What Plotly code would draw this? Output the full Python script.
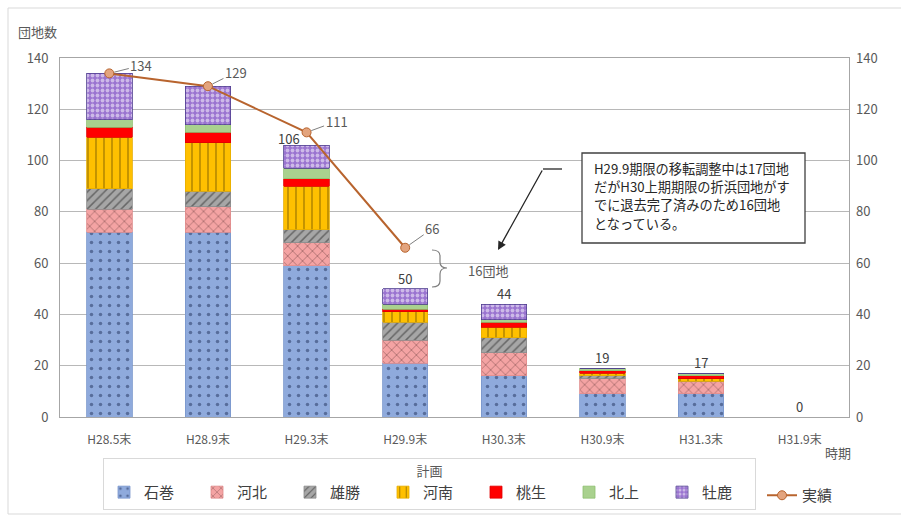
import plotly.graph_objects as go

# --- data -------------------------------------------------------------
periods = ["H28.5末", "H28.9末", "H29.3末", "H29.9末", "H30.3末", "H30.9末", "H31.3末", "H31.9末"]

ishinomaki = [72, 72, 59, 21, 16, 9, 9, 0]   # 石巻
kahoku     = [9, 10, 9, 9, 9, 6, 5, 0]       # 河北
ogatsu     = [8, 6, 5, 7, 6, 1, 0, 0]        # 雄勝
kanan      = [20, 19, 17, 4, 4, 1, 1, 0]     # 河南
monou      = [4, 4, 3, 1, 2, 1, 1, 0]        # 桃生
kitakami   = [3, 3, 4, 2, 1, 1, 1, 0]        # 北上
oshika     = [18, 15, 9, 6, 6, 0, 0, 0]      # 牡鹿

actual = [134, 129, 111, 66, None, None, None, None]  # 実績

y_ticks = [0, 20, 40, 60, 80, 100, 120, 140]

note_lines = [
    "H29.9期限の移転調整中は17団地",
    "だがH30上期期限の折浜団地がす",
    "でに退去完了済みのため16団地",
    "となっている。",
]

# --- styling ----------------------------------------------------------
FONT = "Noto Sans CJK JP, Noto Sans, sans-serif"
TICK_COLOR = "#595959"

series = [
    ("石巻", ishinomaki, "#8FAADC", "#7896CC", dict(shape=".", fgcolor="#1F2F5A", size=9, solidity=0.12)),
    ("河北", kahoku, "#F4A3A3", "#E08C8C", dict(shape="x", fgcolor="#3A1A1A", size=7, solidity=0.18)),
    ("雄勝", ogatsu, "#A6A6A6", "#8C8C8C", dict(shape="/", fgcolor="#262626", size=6, solidity=0.25)),
    ("河南", kanan, "#FFC000", "#E6AC00", dict(shape="|", fgcolor="#3A2A00", size=8, solidity=0.15)),
    ("桃生", monou, "#FF0000", "#E00000", None),
    ("北上", kitakami, "#A9D18E", "#8DBF6E", None),
    ("牡鹿", oshika, "#9A74D0", "#4F3F8F", dict(shape=".", fgcolor="#FFFFFF", size=5, solidity=0.45)),
]

fig = go.Figure()

for name, vals, color, edge, pat in series:
    marker = dict(color=color, line=dict(color=edge, width=0.8))
    if pat:
        marker["pattern"] = dict(fillmode="overlay", **pat)
    fig.add_trace(go.Bar(
        x=periods, y=vals, name=name, marker=marker, legend="legend",
        hoverinfo="x+y+name",
    ))

fig.add_trace(go.Scatter(
    x=periods, y=actual, name="実績", mode="lines+markers", yaxis="y2",
    line=dict(color="#B8642E", width=2),
    marker=dict(symbol="circle", size=9, color="#E3A47E", line=dict(color="#B8642E", width=1)),
    legend="legend2",
))

# --- annotations ------------------------------------------------------
annotations = []

# totals above each bar
totals = [sum(v) for v in zip(ishinomaki, kahoku, ogatsu, kanan, monou, kitakami, oshika)]
total_shift = {2: (-18, -5)}
for i, t in enumerate(totals):
    if i in (0, 1):
        continue  # the 実績 label sits at these tops
    dx, dy = total_shift.get(i, (0, -1))
    annotations.append(dict(
        x=periods[i], y=t, xref="x", yref="y", text=str(t), showarrow=False,
        xanchor="center", yanchor="bottom", yshift=dy, xshift=dx,
        font=dict(family=FONT, size=13, color="#404040"),
    ))

# 実績 value labels with short leader lines
leader = [(32, -8), (28, -14), (30, -11), (27, -19)]
for i, v in enumerate(actual):
    if v is None:
        continue
    ax, ay = leader[i]
    annotations.append(dict(
        x=periods[i], y=v, xref="x", yref="y", text=str(v),
        showarrow=True, arrowhead=0, arrowwidth=1, arrowcolor="#7F7F7F",
        ax=ax, ay=ay, standoff=5,
        font=dict(family=FONT, size=13, color="#595959"),
    ))

# paper-coordinate helpers (plot area spans pixels 60..849 x 58..417)
L, R, T, B = 60, 849, 58, 417
def px(x):
    return (x - L) / (R - L)
def py(y):
    return (B - y) / (B - T)

# bracket label
annotations.append(dict(
    x=px(466), y=py(270), xref="paper", yref="paper", text="16団地",
    showarrow=False, xanchor="left", yanchor="middle",
    font=dict(family=FONT, size=13, color="#595959"),
))

# callout text, one annotation per line
for k, line in enumerate(note_lines):
    annotations.append(dict(
        x=px(593), y=py(168 + 18.4 * k), xref="paper", yref="paper",
        text=line, showarrow=False, xanchor="left", yanchor="middle", align="left",
        borderpad=0,
        font=dict(family=FONT, size=13.2, color="#262626"),
    ))

# callout arrow
annotations.append(dict(
    x=px(498), y=py(250), xref="paper", yref="paper", text="",
    showarrow=True, arrowhead=2, arrowsize=1.3, arrowwidth=1.3, arrowcolor="#262626",
    ax=45, ay=-81, standoff=0,
))

# axis captions
annotations.append(dict(
    x=px(37), y=py(32), xref="paper", yref="paper", text="団地数",
    showarrow=False, xanchor="center", yanchor="middle",
    font=dict(family=FONT, size=13, color="#595959"),
))
annotations.append(dict(
    x=px(838), y=py(452), xref="paper", yref="paper", text="時期",
    showarrow=False, xanchor="center", yanchor="middle",
    font=dict(family=FONT, size=13, color="#595959"),
))

# --- shapes -----------------------------------------------------------
bx0, bx1, btop, bmid, bbot, btip = px(432), px(440), py(250), py(268), py(287), px(447)
brace = (
    f"M {bx0},{btop} Q {bx1},{btop} {bx1},{py(256)} "
    f"L {bx1},{py(262)} Q {bx1},{bmid} {btip},{bmid} "
    f"Q {bx1},{bmid} {bx1},{py(274)} "
    f"L {bx1},{py(281)} Q {bx1},{bbot} {bx0},{bbot}"
)

shapes = [
    # outer frame
    dict(type="rect", xref="paper", yref="paper",
         x0=px(8), x1=px(905), y0=py(514), y1=py(8),
         line=dict(color="#D9D9D9", width=1), layer="below"),
    # brace
    dict(type="path", xref="paper", yref="paper", path=brace,
         line=dict(color="#7F7F7F", width=1.2)),
    # callout box
    dict(type="rect", xref="paper", yref="paper",
         x0=px(582), x1=px(805), y0=py(243), y1=py(153),
         line=dict(color="#404040", width=1.3), fillcolor="white"),
    # horizontal stub of the callout arrow
    dict(type="line", xref="paper", yref="paper",
         x0=px(543), x1=px(562), y0=py(169), y1=py(169),
         line=dict(color="#262626", width=1.3)),
]

# --- layout -----------------------------------------------------------
fig.update_layout(
    width=901, height=519,
    margin=dict(l=L, r=901 - R, t=T, b=519 - B, autoexpand=False),
    paper_bgcolor="white", plot_bgcolor="white",
    barmode="stack", bargap=0.54,
    font=dict(family=FONT, color=TICK_COLOR),
    showlegend=True,
    xaxis=dict(
        type="category", showgrid=False, showline=True, mirror=True,
        linecolor="#A6A6A6", linewidth=1, ticks="",
        tickfont=dict(family=FONT, size=12, color=TICK_COLOR),
        ticklabelstandoff=12, automargin=False,
    ),
    yaxis=dict(
        range=[0, 140], tickvals=y_ticks, showgrid=True, gridcolor="#B8B8B8",
        gridwidth=1, showline=True, mirror=True, linecolor="#A6A6A6",
        zeroline=False, ticks="", ticklabelstandoff=8, automargin=False,
        tickfont=dict(family=FONT, size=13, color=TICK_COLOR),
    ),
    yaxis2=dict(
        range=[0, 140], tickvals=y_ticks, overlaying="y", side="right",
        showgrid=False, showline=False, zeroline=False, ticks="",
        ticklabelstandoff=6, automargin=False,
        tickfont=dict(family=FONT, size=13, color=TICK_COLOR),
    ),
    legend=dict(
        orientation="h", x=px(103), y=py(458), xanchor="left", yanchor="top",
        bordercolor="#D9D9D9", borderwidth=1,
        title=dict(text="計画", side="top center", font=dict(family=FONT, size=13, color=TICK_COLOR)),
        font=dict(family=FONT, size=15, color="#404040"),
        entrywidth=48, entrywidthmode="pixels",
        traceorder="normal",
    ),
    legend2=dict(
        orientation="h", x=px(762), y=py(479), xanchor="left", yanchor="top",
        font=dict(family=FONT, size=15, color="#404040"),
    ),
    annotations=annotations,
    shapes=shapes,
)

fig.write_html("out.html")
